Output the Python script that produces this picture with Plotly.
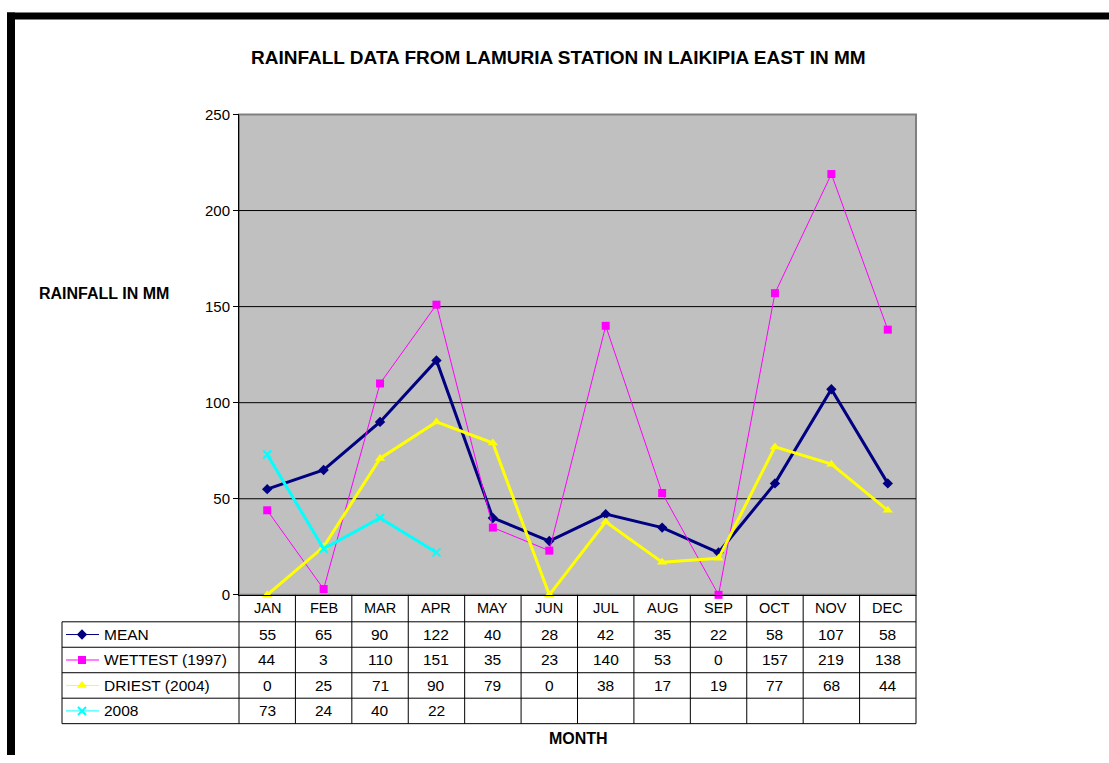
import plotly.graph_objects as go

months = ["JAN", "FEB", "MAR", "APR", "MAY", "JUN", "JUL", "AUG", "SEP", "OCT", "NOV", "DEC"]
mean_vals = [55, 65, 90, 122, 40, 28, 42, 35, 22, 58, 107, 58]
wettest_vals = [44, 3, 110, 151, 35, 23, 140, 53, 0, 157, 219, 138]
driest_vals = [0, 25, 71, 90, 79, 0, 38, 17, 19, 77, 68, 44]
y2008_vals = [73, 24, 40, 22]
yticks = [0, 50, 100, 150, 200, 250]

series = [
    ("MEAN", mean_vals, "#000080", 3, "diamond", 8),
    ("WETTEST (1997)", wettest_vals, "#FF00FF", 1, "square", 8),
    ("DRIEST (2004)", driest_vals, "#FFFF00", 3, "triangle-up", 9),
    ("2008", y2008_vals, "#00FFFF", 3, "x-thin", 8),
]

W, H = 1109, 763
X0, X1 = 239, 916      # plot area px
YT, YB = 114, 595
ROW_H = 25.5
HEADER_B = 622
TABLE_L = 62
FONT = "Liberation Sans, Arial, sans-serif"
# observed vertical mapping of the page photo: shown_y = VS * y + VO
VS, VO = 0.979, 8.4

def px(x):
    return x / W

def py(y):
    yi = (y - VO) / VS
    return 1 - yi / H

fig = go.Figure()

for name, vals, color, width, sym, size in series:
    fig.add_trace(go.Scatter(
        x=list(range(len(vals))), y=vals, mode="lines+markers",
        line=dict(color=color, width=width),
        marker=dict(symbol=sym, size=size, color=color,
                    line=dict(color=color, width=2 if sym == "x-thin" else 0)),
        name=name, showlegend=False, xaxis="x", yaxis="y", cliponaxis=False))

# legend keys in the table (pixel overlay axes)
for r, (name, vals, color, width, sym, size) in enumerate(series):
    yc = HEADER_B + ROW_H * (r + 0.5)
    fig.add_trace(go.Scatter(
        x=[66, 99], y=[yc, yc], mode="lines", line=dict(color=color, width=1),
        showlegend=False, xaxis="x2", yaxis="y2", hoverinfo="skip"))
    fig.add_trace(go.Scatter(
        x=[82], y=[yc], mode="markers",
        marker=dict(symbol=sym, size=size, color=color,
                    line=dict(color=color, width=2 if sym == "x-thin" else 0)),
        showlegend=False, xaxis="x2", yaxis="y2", hoverinfo="skip"))

shapes = []
shapes.append(dict(type="rect", xref="x domain", yref="y domain", x0=0, x1=1, y0=0, y1=1,
                   fillcolor="#C0C0C0", line=dict(color="#808080", width=2), layer="below"))
for v in yticks[1:-1]:
    shapes.append(dict(type="line", xref="x domain", yref="y", x0=0, x1=1, y0=v, y1=v,
                       line=dict(color="black", width=1), layer="below"))

ncol = len(months)
colw = (X1 - X0) / ncol
TB = HEADER_B + ROW_H * len(series)
for k in range(ncol + 1):
    x = X0 + k * colw
    shapes.append(dict(type="line", xref="paper", yref="paper", x0=px(x), x1=px(x),
                       y0=py(YB), y1=py(TB), line=dict(color="black", width=1)))
shapes.append(dict(type="line", xref="paper", yref="paper", x0=px(TABLE_L), x1=px(TABLE_L),
                   y0=py(HEADER_B), y1=py(TB), line=dict(color="black", width=1)))
for r in range(len(series) + 1):
    y = HEADER_B + r * ROW_H
    shapes.append(dict(type="line", xref="paper", yref="paper", x0=px(TABLE_L), x1=px(X1),
                       y0=py(y), y1=py(y), line=dict(color="black", width=1)))

shapes.append(dict(type="rect", xref="paper", yref="paper", x0=px(7), x1=1,
                   y0=py(19), y1=py(12), fillcolor="black", line=dict(width=0)))
shapes.append(dict(type="rect", xref="paper", yref="paper", x0=px(7), x1=px(15),
                   y0=0, y1=py(12), fillcolor="black", line=dict(width=0)))

def ann(x, y, text, size, xref="paper", xanchor="center"):
    return dict(x=x, xref=xref, y=y, yref="paper", text=text, showarrow=False,
                xanchor=xanchor, yanchor="middle",
                font=dict(size=size, color="black", family=FONT))

annotations = []
for i, m in enumerate(months):
    annotations.append(ann(i, py((YB + HEADER_B) / 2), m, 14.5, xref="x"))
for r, (name, vals, color, width, sym, size) in enumerate(series):
    yc = py(HEADER_B + ROW_H * (r + 0.5))
    annotations.append(ann(px(102), yc, name, 15.5, xanchor="left"))
    for i, v in enumerate(vals):
        annotations.append(ann(i, yc, str(v), 15.5, xref="x"))

annotations.append(ann(px(558), py(57),
                       "<b>RAINFALL DATA FROM LAMURIA STATION IN LAIKIPIA EAST IN MM</b>", 19))
annotations.append(ann(px(104), py(293), "<b>RAINFALL IN MM</b>", 16))
annotations.append(ann(px(578), py(739), "<b>MONTH</b>", 16))

fig.update_layout(
    width=W, height=H,
    margin=dict(l=0, r=0, t=0, b=0),
    paper_bgcolor="white", plot_bgcolor="rgba(0,0,0,0)",
    xaxis=dict(domain=[px(X0), px(X1)], range=[-0.5, 11.5], showticklabels=False,
               showgrid=False, zeroline=False, showline=True, linecolor="black", linewidth=1,
               ticks="", fixedrange=True),
    yaxis=dict(domain=[py(YB), py(YT)], range=[0, 250], tickvals=yticks,
               showgrid=False, zeroline=False, showline=True, linecolor="black", linewidth=1,
               ticks="outside", ticklen=5, tickcolor="black",
               tickfont=dict(size=15, color="black", family=FONT), fixedrange=True),
    xaxis2=dict(domain=[0, 1], range=[0, W], visible=False, fixedrange=True),
    yaxis2=dict(domain=[0, 1], range=[VS * H + VO, VO], visible=False, fixedrange=True),
    shapes=shapes, annotations=annotations,
)

post = ("var gd=document.getElementById('{plot_id}');"
        "gd.style.position='fixed';gd.style.left='0px';gd.style.top='0px';"
        "document.documentElement.style.margin='0';document.documentElement.style.overflow='hidden';"
        "document.documentElement.style.height='763px';"
        "document.body.style.margin='0';document.body.style.overflow='hidden';"
        "document.body.style.height='763px';")

fig.write_html("out.html", config={"displayModeBar": False}, post_script=post)
